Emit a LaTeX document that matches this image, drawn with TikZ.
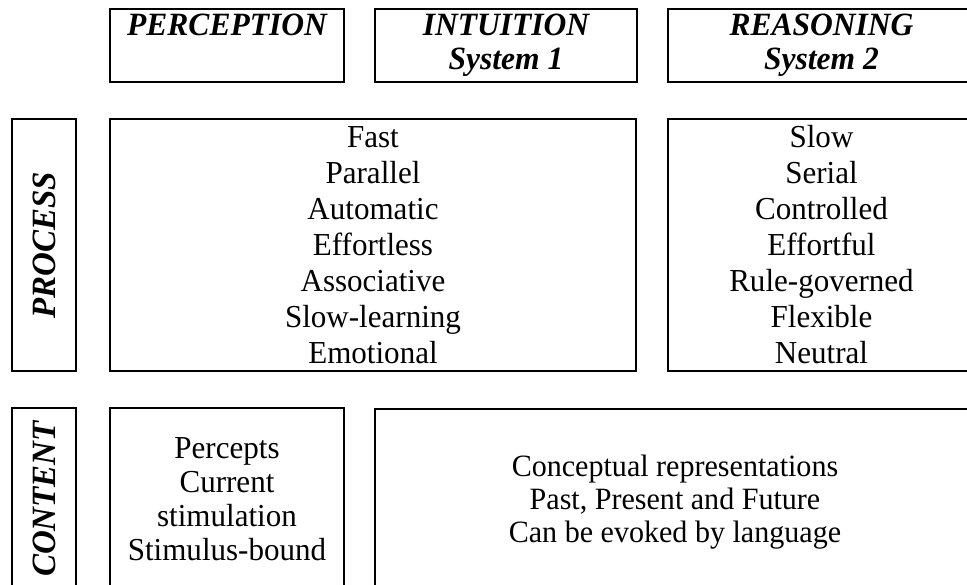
\documentclass[tikz,border=0pt]{standalone}
\usepackage{fontspec}
\setmainfont{Liberation Serif}[FakeStretch=0.97]

\begin{document}
\begin{tikzpicture}[x=1pt, y=-1pt,
    box/.style={draw, line width=2pt, inner sep=0pt, align=center,
        font=\fontsize{32}{36}\selectfont},
    headbox/.style={box, minimum height=73pt,
        font=\fontsize{32.5}{34}\selectfont\bfseries\itshape},
    sidebox/.style={box, rotate=90, minimum height=64pt,
        font=\fontsize{34}{34}\selectfont\bfseries\itshape}]
    \useasboundingbox (0,0) rectangle (967,584);
    \clip (0,0) rectangle (967,584);

    % Column heads
    \node[headbox, minimum width=234pt] (perception) at (227,45.5)
        {PERCEPTION\\ \phantom{System 1}};
    \node[headbox, minimum width=262pt] (intuition) at (506,45.5)
        {INTUITION\\ System 1};
    \node[headbox, minimum width=307pt] (reasoning) at (821.5,45.5)
        {REASONING\\ System 2};

    % Process row
    \node[sidebox, minimum width=252pt] (process) at (44,245) {PROCESS};
    \node[box, minimum width=526pt, minimum height=252pt] (fastlist) at (373,245)
        {Fast\\ Parallel\\ Automatic\\ Effortless\\ Associative\\ Slow-learning\\ Emotional};
    \node[box, minimum width=307pt, minimum height=252pt] (slowlist) at (821.5,245)
        {Slow\\ Serial\\ Controlled\\ Effortful\\ Rule-governed\\ Flexible\\ Neutral};

    % Content row
    \node[sidebox, minimum width=182pt] (content) at (44,499) {CONTENT};
    \node[box, minimum width=234pt, minimum height=182pt,
        font=\fontsize{32}{34}\selectfont] (percepts) at (227,499)
        {Percepts\\ Current\\ stimulation\\ Stimulus-bound};
    \node[box, minimum width=600pt, minimum height=186pt,
        font=\fontsize{31}{33}\selectfont] (concepts) at (675,502)
        {Conceptual representations\\ Past, Present and Future\\ Can be evoked by language};
\end{tikzpicture}
\end{document}
